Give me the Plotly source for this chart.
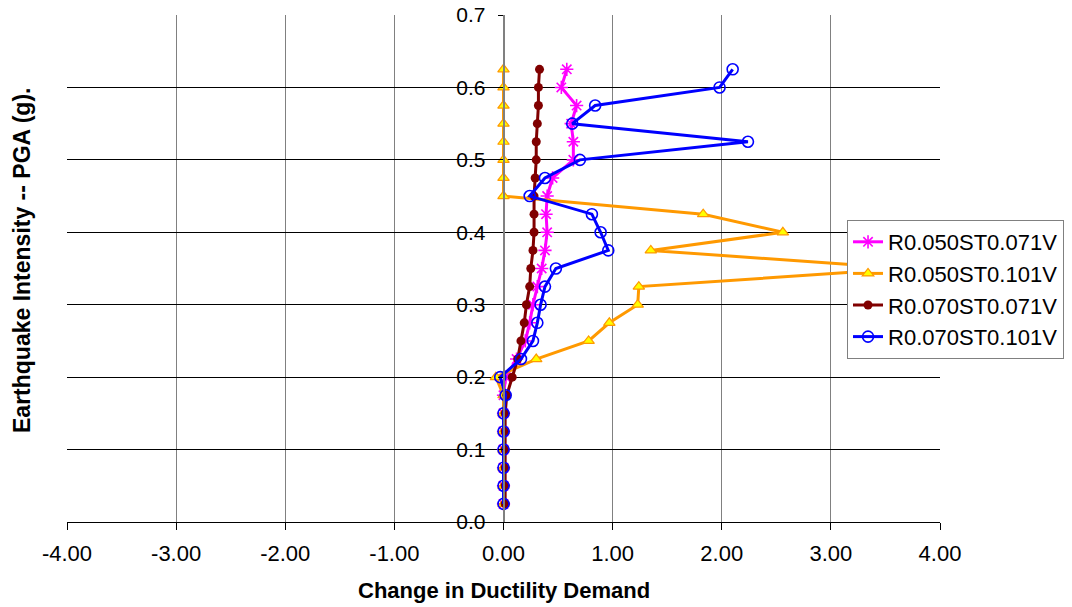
import plotly.graph_objects as go

# PGA levels (g)
pga = [0.025, 0.05, 0.075, 0.1, 0.125, 0.15, 0.175, 0.2, 0.225, 0.25, 0.275, 0.3, 0.325,
       0.35, 0.375, 0.4, 0.425, 0.45, 0.475, 0.5, 0.525, 0.55, 0.575, 0.6, 0.625]

r050_st071 = [0.0, 0.0, 0.0, 0.0, 0.0, 0.0, 0.0, 0.02, 0.12, 0.20, 0.24, 0.27, 0.31,
              0.35, 0.38, 0.40, 0.39, 0.40, 0.45, 0.64, 0.64, 0.62, 0.67, 0.53, 0.58]
r050_st101 = [0.0, 0.0, 0.0, 0.0, 0.0, 0.0, 0.0, -0.07, 0.30, 0.78, 0.97, 1.23, 1.24,
              3.69, 1.35, 2.56, 1.83, 0.0, 0.0, 0.0, 0.0, 0.0, 0.0, 0.0, 0.0]
r070_st071 = [0.015, 0.015, 0.015, 0.015, 0.015, 0.015, 0.03, 0.08, 0.13, 0.16, 0.19, 0.21, 0.24,
              0.25, 0.27, 0.28, 0.28, 0.28, 0.29, 0.30, 0.30, 0.31, 0.32, 0.32, 0.33]
r070_st101 = [0.0, 0.0, 0.0, 0.0, 0.0, 0.0, 0.02, -0.03, 0.16, 0.27, 0.31, 0.34, 0.38,
              0.48, 0.96, 0.89, 0.81, 0.24, 0.38, 0.70, 2.24, 0.63, 0.84, 1.98, 2.10]

names = ["R0.050ST0.071V", "R0.050ST0.101V", "R0.070ST0.071V", "R0.070ST0.101V"]

x_tickvals = [-4, -3, -2, -1, 0, 1, 2, 3, 4]
x_ticktext = ["-4.00", "-3.00", "-2.00", "-1.00", "0.00", "1.00", "2.00", "3.00", "4.00"]
y_tickvals = [0.0, 0.1, 0.2, 0.3, 0.4, 0.5, 0.6, 0.7]
y_ticktext = ["0.0", "0.1", "0.2", "0.3", "0.4", "0.5", "0.6", "0.7"]

x_title = "Change in Ductility Demand"
y_title = "Earthquake Intensity -- PGA (g)."

FONT = "Liberation Sans, Arial, sans-serif"

fig = go.Figure()
fig.add_trace(go.Scatter(
    x=r050_st071, y=pga, name=names[0], mode="lines+markers",
    line=dict(color="#FF00FF", width=3),
    marker=dict(symbol="asterisk-open", size=11, color="#FF00FF", line=dict(color="#FF00FF", width=1.6)),
))
fig.add_trace(go.Scatter(
    x=r050_st101, y=pga, name=names[1], mode="lines+markers",
    line=dict(color="#FF9900", width=3),
    marker=dict(symbol="triangle-up", size=10, color="#FFFF00", line=dict(color="#FF9900", width=1.2)),
))
fig.add_trace(go.Scatter(
    x=r070_st071, y=pga, name=names[2], mode="lines+markers",
    line=dict(color="#800000", width=3),
    marker=dict(symbol="circle", size=9, color="#800000"),
))
fig.add_trace(go.Scatter(
    x=r070_st101, y=pga, name=names[3], mode="lines+markers",
    line=dict(color="#0000FF", width=3),
    marker=dict(symbol="circle-open", size=11, color="#0000FF", line=dict(color="#0000FF", width=1.6)),
))

fig.update_layout(
    width=1072, height=607,
    margin=dict(l=67, r=132, t=15, b=85, autoexpand=False),
    paper_bgcolor="white", plot_bgcolor="white",
    font=dict(family=FONT, size=22, color="black"),
    showlegend=True,
    legend=dict(
        x=0.8935, y=(522 - 220) / 507, xanchor="left", yanchor="top",
        bgcolor="white", bordercolor="#808080", borderwidth=1,
        font=dict(family=FONT, size=22, color="black"),
        tracegroupgap=0,
    ),
    xaxis=dict(
        range=[-4, 4], tickmode="array", tickvals=x_tickvals, ticktext=x_ticktext,
        showgrid=True, gridcolor="#808080", gridwidth=1,
        zeroline=False, automargin=False,
        showline=True, linecolor="black", linewidth=1,
        ticks="outside", ticklen=7, tickcolor="black",
        tickfont=dict(family=FONT, size=22, color="black"),
        ticklabelstandoff=5,
    ),
    yaxis=dict(
        range=[0, 0.7], tickmode="array", tickvals=y_tickvals, ticktext=y_ticktext,
        anchor="free", position=0.5,
        showgrid=True, gridcolor="black", gridwidth=1,
        zeroline=False, automargin=False,
        showline=True, linecolor="#808080", linewidth=1.5,
        ticks="outside", ticklen=5, tickcolor="black",
        tickfont=dict(family=FONT, size=21, color="black"),
        ticklabelstandoff=8,
    ),
    annotations=[
        dict(text="<b>%s</b>" % x_title, xref="paper", yref="paper",
             x=0.5, y=-68 / 507, xanchor="center", yanchor="middle",
             showarrow=False, font=dict(family=FONT, size=22, color="black")),
        dict(text="<b>%s</b>" % y_title, xref="paper", yref="paper",
             x=-45 / 873, y=(522 - 261) / 507, xanchor="center", yanchor="middle", textangle=-90,
             showarrow=False, font=dict(family=FONT, size=23, color="black")),
    ],
)

fig.write_html("out.html", post_script="document.body.style.margin='0';",
               config={"displayModeBar": False})
